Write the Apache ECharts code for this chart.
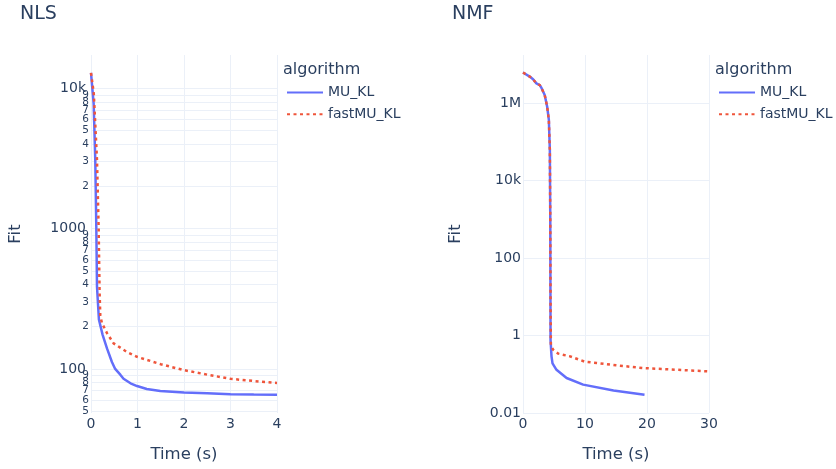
<!DOCTYPE html>
<html><head><meta charset="utf-8">
<script src="https://cdn.jsdelivr.net/npm/echarts@6/dist/echarts.min.js"></script>
<style>html,body{margin:0;padding:0;background:#fff}#c{width:836px;height:469px}</style>
</head><body><div id="c"></div>
<script>
// ---- NLS panel data ----
const nlsMuTime = [0, 0.057, 0.092, 0.114, 0.129, 0.17, 0.25, 0.344, 0.45, 0.52, 0.63, 0.70, 0.85, 0.99, 1.2, 1.49, 2.0, 2.5, 3.0, 3.5, 4.0];
const nlsMuFit  = [12900, 7800, 3080, 1030, 386, 225, 175, 140, 112, 100, 91, 85, 79, 75.5, 72, 69.5, 68, 67, 66, 65.7, 65.5];
const nlsFastTime = [0, 0.06, 0.129, 0.164, 0.185, 0.20, 0.236, 0.344, 0.486, 0.774, 0.99, 1.5, 2.0, 2.5, 3.0, 3.5, 4.0];
const nlsFastFit  = [12900, 9200, 3080, 1030, 349, 240, 212, 180, 152, 132, 122, 108, 98, 91, 85, 82, 79.5];
// ---- NMF panel data ----
const nmfMuTime = [0, 1.08, 1.62, 2.16, 2.7, 3.0, 3.5, 3.9, 4.17, 4.33, 4.40, 4.43, 4.44, 4.6, 4.76, 5.4, 7.03, 9.7, 14.6, 19.6];
const nmfMuFit  = [6.1e6, 4.8e6, 4.1e6, 3.2e6, 2.9e6, 2.4e6, 1.6e6, 8.0e5, 3.65e5, 6.1e4, 1000, 5, 0.77, 0.29, 0.19, 0.13, 0.08, 0.054, 0.038, 0.0296];
const nmfFastTime = [0, 1.08, 1.62, 2.16, 2.7, 3.0, 3.5, 3.9, 4.17, 4.33, 4.40, 4.45, 4.5, 4.86, 5.7, 7.57, 10, 11.9, 15, 19.5, 25, 30];
const nmfFastFit  = [6.1e6, 4.8e6, 4.1e6, 3.2e6, 2.9e6, 2.4e6, 1.6e6, 8.0e5, 3.65e5, 6.1e4, 1000, 5, 0.55, 0.43, 0.34, 0.29, 0.21, 0.195, 0.17, 0.144, 0.13, 0.118];

// ---- tick labels ----
// (order chosen so the first/last labels in the list have no close neighbour)
const nlsYTicks = [10000, 50,60,70,80,90,200,300,400,500,600,700,800,900,1000,2000,3000,4000,5000,6000,7000,8000,9000, 100];
const nlsYMajor = {100: '100', 1000: '1000', 10000: '10k'};
const nmfYTicks = [0.01, 1, 100, 10000, 1000000];
const nmfYLabels = ['0.01', '1', '100', '10k', '1M'];
const seriesNames = ['MU_KL', 'fastMU_KL'];
const panelTitles = ['NLS', 'NMF'];
const legendTitle = 'algorithm';

const FONT = '"DejaVu Sans", Verdana, sans-serif';
const TXT = '#2a3f5f';
const GRIDC = '#EBF0F8';
const BLUE = '#636efa';
const RED = '#EF553B';

function pairs(t, v) { return t.map((x, i) => [x, v[i]]); }

const chart = echarts.init(document.getElementById('c'), null, {renderer: 'canvas'});

const xCommon = {
  type: 'value',
  axisLine: {show: false},
  axisTick: {show: false},
  splitLine: {show: true, lineStyle: {color: GRIDC, width: 1}},
  axisLabel: {color: TXT, fontFamily: FONT, fontSize: 14, margin: 4, showMinLabel: true, showMaxLabel: true},
  nameLocation: 'middle',
  nameGap: 33,
  nameTextStyle: {color: TXT, fontFamily: FONT, fontSize: 16.5}
};
const titleStyle = {color: TXT, fontFamily: FONT, fontSize: 19, fontWeight: 'normal', lineHeight: 24};
const legTitleStyle = {color: TXT, fontFamily: FONT, fontSize: 16, fontWeight: 'normal', lineHeight: 20};
const legendCommon = {
  data: seriesNames, orient: 'vertical', top: 85.5, padding: 0, itemWidth: 36, itemHeight: 14, itemGap: 7.7,
  itemStyle: {color: 'rgba(0,0,0,0)', borderWidth: 0, opacity: 0},
  textStyle: {color: TXT, fontFamily: FONT, fontSize: 14}
};

const option = {
  backgroundColor: '#fff',
  animation: false,
  title: [
    {text: panelTitles[0], left: 20, top: 2, padding: 0, textStyle: titleStyle},
    {text: panelTitles[1], left: 452, top: 2, padding: 0, textStyle: titleStyle},
    {text: legendTitle, left: 283, top: 60, padding: 0, textStyle: legTitleStyle},
    {text: legendTitle, left: 715, top: 60, padding: 0, textStyle: legTitleStyle}
  ],
  legend: [
    Object.assign({}, legendCommon, {left: 286}),
    Object.assign({}, legendCommon, {left: 718})
  ],
  grid: [
    {left: 91, top: 55, width: 186, height: 358, containLabel: false, outerBoundsMode: 'none'},
    {left: 523, top: 55, width: 186, height: 358, containLabel: false, outerBoundsMode: 'none'}
  ],
  xAxis: [
    Object.assign({}, xCommon, {gridIndex: 0, min: 0, max: 4, interval: 1, name: 'Time (s)'}),
    Object.assign({}, xCommon, {gridIndex: 1, min: 0, max: 30, interval: 10, name: 'Time (s)'})
  ],
  yAxis: [
    {
      gridIndex: 0, type: 'log', logBase: 10, min: 48.5, max: 17300,
      name: 'Fit', nameLocation: 'middle', nameGap: 66.7,
      nameTextStyle: {color: TXT, fontFamily: FONT, fontSize: 16.5},
      axisLine: {show: false},
      axisTick: {show: false, customValues: nlsYTicks},
      splitLine: {show: true, lineStyle: {color: GRIDC, width: 1}},
      axisLabel: {
        customValues: nlsYTicks, margin: 2, color: TXT, fontFamily: FONT,
        hideOverlap: false,
        formatter: function (v) {
          const key = Math.round(v);
          if (nlsYMajor[key]) return '{maj|' + nlsYMajor[key] + '}';
          return '{min|' + String(Math.round(v / Math.pow(10, Math.floor(Math.log10(v) + 1e-9)))) + '}';
        },
        rich: {
          maj: {fontSize: 14, fontFamily: FONT, color: TXT, padding: [0, 3, 0, 0]},
          min: {fontSize: 10.5, fontFamily: FONT, color: TXT}
        }
      }
    },
    {
      gridIndex: 1, type: 'log', logBase: 10, min: 0.01, max: 1.73e7,
      name: 'Fit', nameLocation: 'middle', nameGap: 58.7,
      nameTextStyle: {color: TXT, fontFamily: FONT, fontSize: 16.5},
      axisLine: {show: false},
      axisTick: {show: false, customValues: nmfYTicks},
      splitLine: {show: true, lineStyle: {color: GRIDC, width: 1}},
      axisLabel: {
        customValues: nmfYTicks, margin: 2, color: TXT, fontFamily: FONT, fontSize: 14,
        showMinLabel: true, showMaxLabel: true,
        formatter: function (v) {
          for (let i = 0; i < nmfYTicks.length; i++) {
            if (Math.abs(Math.log10(v) - Math.log10(nmfYTicks[i])) < 1e-6) return nmfYLabels[i];
          }
          return '';
        }
      }
    }
  ],
  series: [
    {name: seriesNames[0], type: 'line', xAxisIndex: 0, yAxisIndex: 0, data: pairs(nlsMuTime, nlsMuFit),
     symbol: 'none', lineStyle: {color: BLUE, width: 2.5}, itemStyle: {color: BLUE}, z: 3},
    {name: seriesNames[1], type: 'line', xAxisIndex: 0, yAxisIndex: 0, data: pairs(nlsFastTime, nlsFastFit),
     symbol: 'none', lineStyle: {color: RED, width: 2.5, type: [3, 3.5]}, itemStyle: {color: RED}, z: 4},
    {name: seriesNames[0], type: 'line', xAxisIndex: 1, yAxisIndex: 1, data: pairs(nmfMuTime, nmfMuFit),
     symbol: 'none', lineStyle: {color: BLUE, width: 2.5}, itemStyle: {color: BLUE}, z: 3},
    {name: seriesNames[1], type: 'line', xAxisIndex: 1, yAxisIndex: 1, data: pairs(nmfFastTime, nmfFastFit),
     symbol: 'none', lineStyle: {color: RED, width: 2.5, type: [3, 3.5]}, itemStyle: {color: RED}, z: 4}
  ]
};
chart.setOption(option);
</script>
</body></html>
